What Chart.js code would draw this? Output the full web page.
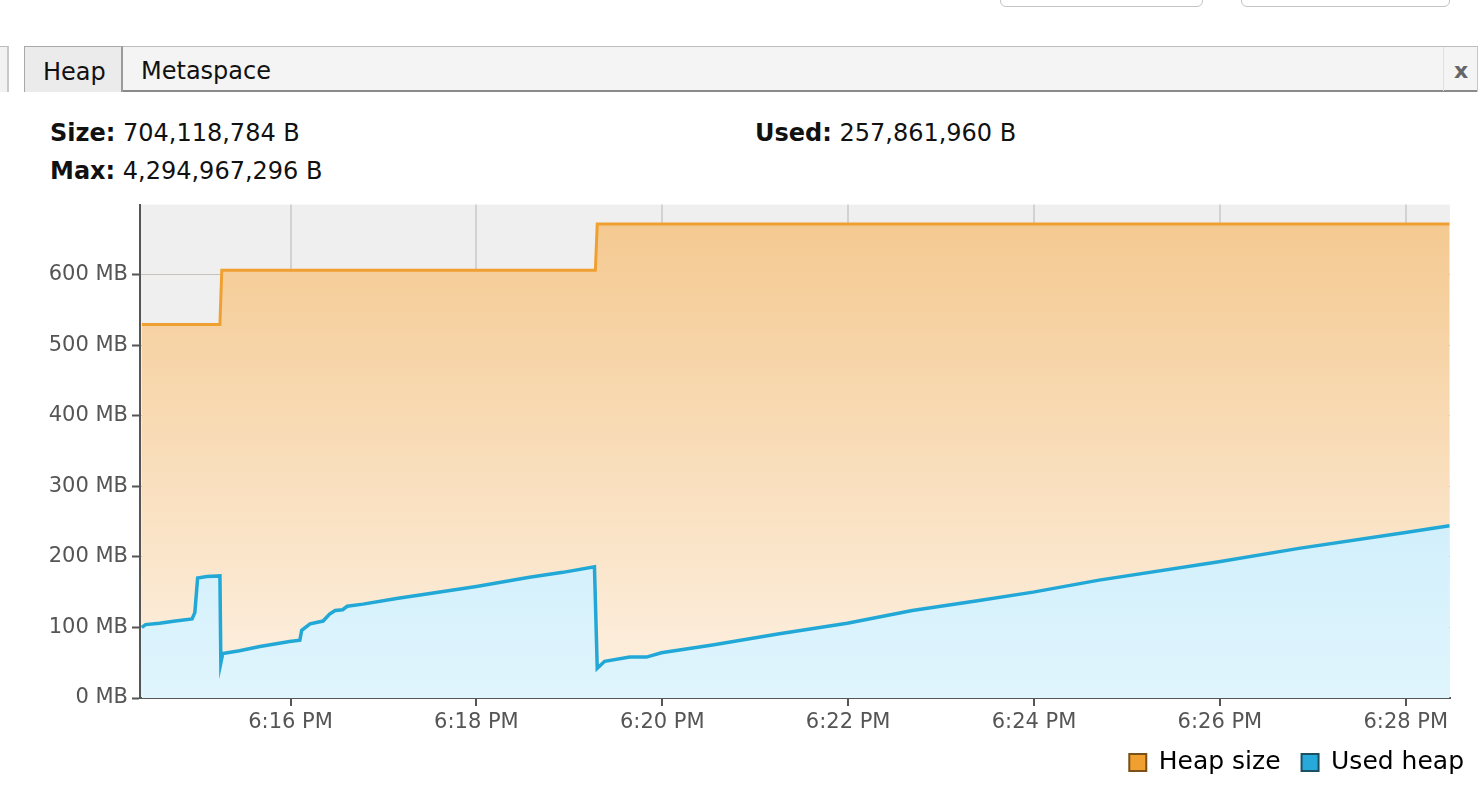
<!DOCTYPE html>
<html>
<head>
<meta charset="utf-8">
<script src="https://cdn.jsdelivr.net/npm/chart.js@4.4.1/dist/chart.umd.min.js"></script>
<style>
  html, body { margin: 0; padding: 0; background: #ffffff; }
  body { width: 1484px; height: 796px; position: relative; overflow: hidden; font-family: "DejaVu Sans", sans-serif; }
  .btn { position: absolute; top: -20px; height: 25px; border: 1px solid #c4c4c4; border-radius: 6px; background: #fff; }
  .tabbar { position: absolute; left: 24px; top: 46px; width: 1453px; height: 45px; background: #f4f4f4; border-top: 1px solid #bdbdbd; border-right: 1px solid #c8c8c8; }
  .tabline { position: absolute; left: 123px; top: 90px; width: 1354px; height: 2px; background: #8a8a8a; }
  .tab { position: absolute; top: 46px; height: 46px; line-height: 50px; font-size: 24px; color: #111; box-sizing: border-box; }
  .leftstub { position: absolute; left: 0; top: 46px; width: 9px; height: 46px; background: #f2f2f2; border-right: 2px solid #c8c8c8; border-top: 1px solid #bdbdbd; box-sizing: border-box; }
  .close { position: absolute; left: 1443px; top: 47px; width: 34px; height: 44px; border-left: 1px solid #e0e0e0; color: #666; font-size: 22px; font-weight: bold; text-align: center; line-height: 48px; }
  .stat { position: absolute; font-size: 24px; color: #111; white-space: nowrap; }
  .stat b { font-weight: bold; }
  #wrap { position: absolute; left: 0; top: 188px; width: 1484px; height: 611px; }
</style>
</head>
<body>
<div class="btn" style="left:1000px; width:201px;"></div>
<div class="btn" style="left:1241px; width:207px;"></div>

<div class="leftstub"></div>
<div class="tabbar"></div>
<div class="tabline"></div>
<div class="tab" style="left:24px; width:99px; background:#ebebeb; border-left:1px solid #a8a8a8; border-top:1px solid #a8a8a8; border-right:2px solid #9a9a9a; padding-left:18px;">Heap</div>
<div class="tab" style="left:141px; width:160px;">Metaspace</div>
<div class="close">x</div>

<div class="stat" style="left:50px; top:119px;"><b>Size:</b> 704,118,784 B</div>
<div class="stat" style="left:50px; top:157px;"><b>Max:</b> 4,294,967,296 B</div>
<div class="stat" style="left:755px; top:119px;"><b>Used:</b> 257,861,960 B</div>

<div id="wrap"><canvas id="c"></canvas></div>

<script>
// ---- Data (x values are minutes after 6:00 PM) ----
const seriesNames = ["Heap size", "Used heap"];

const heapSizeTimes = [14.40, 15.24, 15.26, 19.28, 19.30, 28.47];
const heapSizeMB    = [529,   529,   606,   606,   671.5, 671.5];

const usedTimes = [14.40, 14.44, 14.59, 14.76, 14.94, 14.97, 15.00, 15.10, 15.24, 15.25, 15.27,
                   15.45, 15.67, 15.99, 16.10, 16.12, 16.21, 16.35, 16.42, 16.48, 16.56, 16.61,
                   16.78, 17.14, 17.50, 18.00, 18.57, 18.93, 19.27, 19.30, 19.38, 19.65, 19.83,
                   19.99, 20.54, 21.26, 21.99, 22.69, 23.41, 23.99, 24.70, 25.99, 26.85, 27.98, 28.47];
const usedMB    = [100, 104, 106, 109, 112, 121, 170, 172, 173, 50, 63,
                   67, 73, 80, 82, 96, 105, 109, 119, 124, 125, 130,
                   133, 141, 148, 158, 171, 178, 186, 42, 52, 58, 58,
                   64, 75, 91, 106, 124, 138, 150, 167, 193, 212, 234, 244];

const xTickValues = [16, 18, 20, 22, 24, 26, 28];
const xTickLabels = ["6:16 PM", "6:18 PM", "6:20 PM", "6:22 PM", "6:24 PM", "6:26 PM", "6:28 PM"];
const yTickValues = [0, 100, 200, 300, 400, 500, 600];
const yTickLabels = ["0 MB", "100 MB", "200 MB", "300 MB", "400 MB", "500 MB", "600 MB"];

const xMin = 14.38, xMax = 28.476, yMin = 0, yMax = 699;

// ---- Styles ----
const heapLine = "#f0a030", usedLine = "#22a8d6";

function grad(ctx, chartArea, c0, c1) {
  const g = ctx.createLinearGradient(0, chartArea.top, 0, chartArea.bottom);
  g.addColorStop(0, c0); g.addColorStop(1, c1);
  return g;
}

const plotBg = {
  id: "plotBg",
  beforeDraw(chart) {
    const { ctx, chartArea: a } = chart;
    ctx.save(); ctx.fillStyle = "#efefef";
    ctx.fillRect(a.left, a.top, a.right - a.left, a.bottom - a.top);
    ctx.restore();
  }
};

// nudge the legend box slightly right/up to match the original placement
const legendNudge = {
  id: "legendNudge",
  afterLayout(chart) {
    const lg = chart.legend;
    if (!lg) return;
    lg.left += 35; lg.right += 35;
    lg.top -= 12; lg.bottom -= 12;
  }
};

const tickFont = { family: "DejaVu Sans", size: 21 };

new Chart(document.getElementById("c"), {
  type: "line",
  data: {
    datasets: [
      {
        label: seriesNames[0],
        data: heapSizeTimes.map((t, i) => ({ x: t, y: heapSizeMB[i] })),
        borderColor: heapLine, borderWidth: 3,
        backgroundColor: (c) => c.chart.chartArea ? grad(c.chart.ctx, c.chart.chartArea, "#f4c88e", "#fdf1e3") : "#f7d9b2",
        fill: "origin", pointRadius: 0, tension: 0, order: 2
      },
      {
        label: seriesNames[1],
        data: usedTimes.map((t, i) => ({ x: t, y: usedMB[i] })),
        borderColor: usedLine, borderWidth: 3.5,
        backgroundColor: (c) => c.chart.chartArea ? grad(c.chart.ctx, c.chart.chartArea, "#b6e5f8", "#e0f5fd") : "#d4f0fc",
        fill: "origin", pointRadius: 0, tension: 0, order: 1
      }
    ]
  },
  options: {
    responsive: true, maintainAspectRatio: false, animation: false,
    layout: { padding: { left: 0, right: 34, top: 2, bottom: 2 } },
    plugins: {
      tooltip: { enabled: false },
      legend: {
        position: "bottom", align: "end",
        labels: {
          font: { family: "DejaVu Sans", size: 25 }, color: "#111",
          boxWidth: 17, boxHeight: 17, padding: 21,
          generateLabels: () => [
            { text: seriesNames[0], fillStyle: "#f0a030", strokeStyle: "#7a5218", lineWidth: 2, datasetIndex: 0 },
            { text: seriesNames[1], fillStyle: "#27a9d9", strokeStyle: "#1d4f63", lineWidth: 2, datasetIndex: 1 }
          ]
        }
      }
    },
    scales: {
      x: {
        type: "linear", min: xMin, max: xMax, z: 1,
        afterBuildTicks: (s) => { s.ticks = xTickValues.map(v => ({ value: v })); },
        afterFit: (s) => { s.height = 43; },
        ticks: { callback: (v, i) => xTickLabels[i], font: tickFont, color: "#555", padding: 4, maxRotation: 0 },
        grid: { color: "rgba(0,0,0,0.12)", lineWidth: 2, tickColor: "#555", tickLength: 8, tickWidth: 2 },
        border: { display: true, color: "#555", width: 2 }
      },
      y: {
        type: "linear", min: yMin, max: yMax, z: 1,
        afterBuildTicks: (s) => { s.ticks = yTickValues.map(v => ({ value: v })); },
        afterFit: (s) => { s.width = 140; },
        ticks: { callback: (v, i) => yTickLabels[i], font: tickFont, color: "#555", padding: 4 },
        grid: { color: "rgba(150,140,130,0.45)", lineWidth: 1, borderDash: [2, 3], tickColor: "#555", tickLength: 8, tickWidth: 2, tickBorderDash: [] },
        border: { display: true, color: "#555", width: 2 }
      }
    }
  },
  plugins: [plotBg, legendNudge]
});
</script>
</body>
</html>
